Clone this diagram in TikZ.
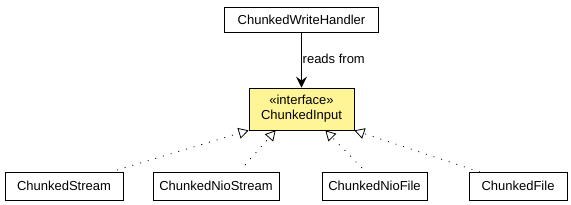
\documentclass[tikz,border=0pt]{standalone}
\usepackage{fontspec}
\setmainfont{Liberation Sans}
\usetikzlibrary{arrows.meta}
\definecolor{ifyellow}{RGB}{255,245,150}
\tikzset{
  cls/.style={draw=black, line width=0.8pt, fill=white, inner sep=0pt, font=\fontsize{13}{15}\selectfont},
  gen/.style={line width=0.8pt, dash pattern=on 1pt off 7pt, -{Triangle[open,length=10pt,width=11pt,line width=0.8pt]}},
  assoc/.style={line width=0.9pt, -{Stealth[length=11pt,width=11pt,inset=4pt]}}
}
\begin{document}
\begin{tikzpicture}[x=1pt,y=-1pt]
\useasboundingbox (0,0) rectangle (571,205);
% boxes
\node[cls, minimum width=154pt, minimum height=25pt] (cwh) at (301.5,19.5) {ChunkedWriteHandler};
\node[cls, fill=ifyellow, minimum width=105pt, minimum height=42pt, align=center] (ci) at (301.5,109) {\fontsize{13}{17}\selectfont «interface»\\ChunkedInput};
\node[cls, minimum width=118pt, minimum height=28pt] (cs) at (64,186) {ChunkedStream};
\node[cls, minimum width=126pt, minimum height=28pt] (cns) at (216,186) {ChunkedNioStream};
\node[cls, minimum width=105pt, minimum height=28pt] (cnf) at (374.5,186) {ChunkedNioFile};
\node[cls, minimum width=98pt, minimum height=28pt] (cf) at (518,186) {ChunkedFile};
% association
\draw[assoc] (cwh.south) -- (ci.north);
\node[anchor=west, inner sep=0pt, font=\fontsize{13}{15}\selectfont] (lbl) at (302.5,59) {reads from};
% generalizations
\coordinate (s1) at (117,170);
\coordinate (s2) at (245,165);
\coordinate (s3) at (362,168);
\coordinate (s4) at (480,172);
\coordinate (t1) at (ci.south west);
\coordinate (t2) at ([xshift=27pt]ci.south west);
\coordinate (t3) at ([xshift=-29pt]ci.south east);
\coordinate (t4) at (ci.south east);
\draw[gen] (s1) -- (t1);
\draw[gen] (s2) -- (t2);
\draw[gen] (s3) -- (t3);
\draw[gen] (s4) -- (t4);
\end{tikzpicture}
\end{document}
